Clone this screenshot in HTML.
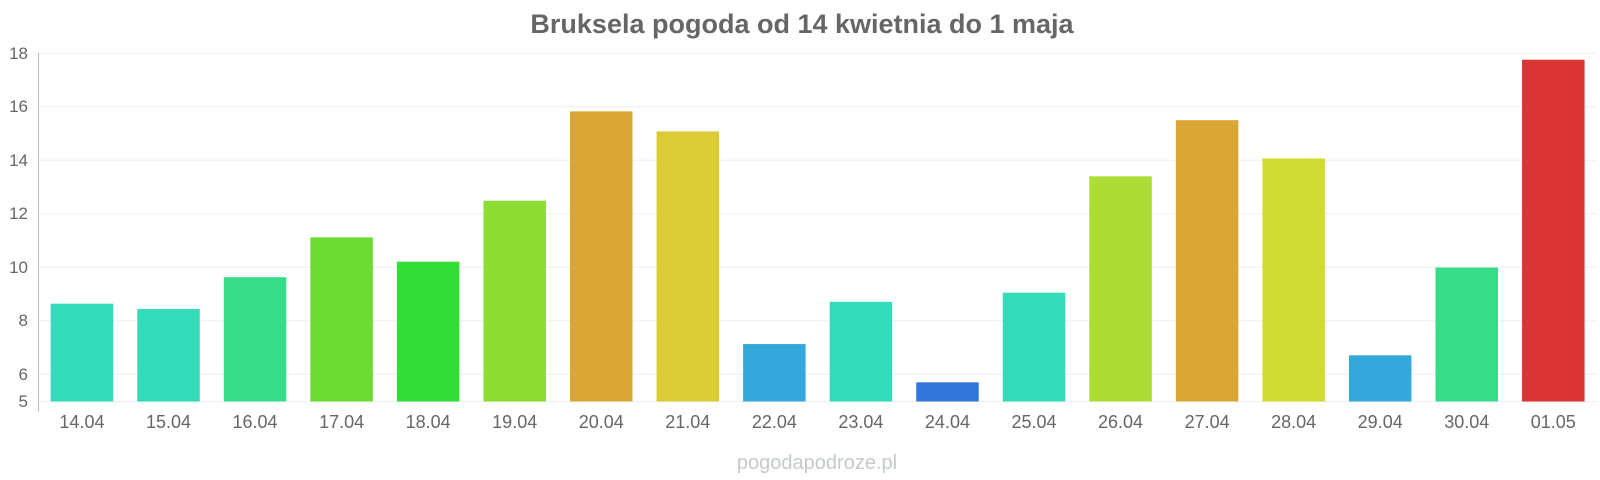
<!DOCTYPE html>
<html><head><meta charset="utf-8"><style>
body{margin:0;background:#fff;}
svg{display:block;font-family:"Liberation Sans",Arial,sans-serif;}
</style></head><body>
<svg width="1600" height="480" xmlns="http://www.w3.org/2000/svg">
<text x="802" y="33" text-anchor="middle" font-size="27" font-weight="bold" fill="#666">Bruksela pogoda od 14 kwietnia do 1 maja</text>
<g stroke="#eee" stroke-width="1">
<line x1="39" x2="1597" y1="53.3" y2="53.3"/>
<line x1="39" x2="1597" y1="106.8" y2="106.8"/>
<line x1="39" x2="1597" y1="160.3" y2="160.3"/>
<line x1="39" x2="1597" y1="213.8" y2="213.8"/>
<line x1="39" x2="1597" y1="267.3" y2="267.3"/>
<line x1="39" x2="1597" y1="320.8" y2="320.8"/>
<line x1="39" x2="1597" y1="374.3" y2="374.3"/>
<line x1="39" x2="1597" y1="401.5" y2="401.5"/>
</g>
<line x1="38.5" x2="38.5" y1="53" y2="412" stroke="#bbb"/>
<g font-size="17" fill="#666" text-anchor="end">
<text x="28" y="59">18</text><text x="28" y="112">16</text><text x="28" y="166">14</text>
<text x="28" y="219">12</text><text x="28" y="273">10</text><text x="28" y="326">8</text>
<text x="28" y="380">6</text><text x="28" y="407">5</text>
</g>
<g id="bars"></g>
<g id="labels" font-size="18" fill="#666" text-anchor="middle"></g>
<text x="817" y="469" text-anchor="middle" font-size="20" fill="#c3ccc3">pogodapodroze.pl</text>
<script>
var v=[8.64,8.44,9.63,11.12,10.21,12.49,15.83,15.08,7.13,8.71,5.70,9.05,13.40,15.50,14.07,6.71,9.99,17.76];
var c=["#34dbb9","#34dbb9","#36dc8a","#6cdc34","#34dc37","#8cdc34","#dba734","#dbcb34","#34a8db","#34dbb9","#3475db","#34dbb9","#addc34","#dba734","#cedc34","#34a8db","#36dc8a","#db3434"];
var l=["14.04","15.04","16.04","17.04","18.04","19.04","20.04","21.04","22.04","23.04","24.04","25.04","26.04","27.04","28.04","29.04","30.04","01.05"];
var b=document.getElementById("bars"),L=document.getElementById("labels"),ns="http://www.w3.org/2000/svg";
for(var i=0;i<18;i++){var x=50.7+i*86.55,y=53.3+(18-v[i])*26.75;
var r=document.createElementNS(ns,"rect");r.setAttribute("x",x);r.setAttribute("y",y);r.setAttribute("width",62.5);r.setAttribute("height",401.5-y);r.setAttribute("fill",c[i]);b.appendChild(r);
var t=document.createElementNS(ns,"text");t.setAttribute("x",x+31.25);t.setAttribute("y",428);t.textContent=l[i];L.appendChild(t);}
</script>
</svg>
</body></html>
